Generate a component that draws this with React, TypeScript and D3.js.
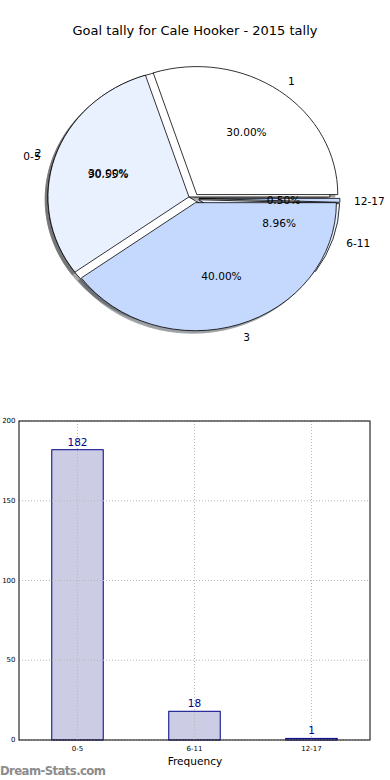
import React from 'react';
import * as d3 from 'd3';

const title = 'Goal tally for Cale Hooker - 2015 tally';
const pieLabelsA = ['1', '2', '3'];
const pieValuesA = [30, 30, 40];
const categories = ['0-5', '6-11', '12-17'];
const barValues = [182, 18, 1];
const pieColors = ['#ffffff', '#eaf1fe', '#c5d9fe'];
const yTicks = [0, 50, 100, 150, 200];

const FONT = 'DejaVu Sans, sans-serif';

const CX = 193.8, CY = 198.3, RX = 141, RY = 128, EXPLODE = 0.036;

function darken(c: string) {
  const r = d3.rgb(c);
  return d3.rgb(r.r * 0.3, r.g * 0.3, r.b * 0.3).toString();
}

function buildPie(values: number[], labels: string[]) {
  const total = d3.sum(values);
  const arcs = d3.pie<number>().sort(null).startAngle(Math.PI / 2).endAngle(Math.PI / 2 - 2 * Math.PI)(values);
  return arcs.map((a, i) => {
    const m = (a.startAngle + a.endAngle) / 2;
    const ux = Math.sin(m), uy = -Math.cos(m);
    return {
      arc: a,
      label: labels[i],
      pct: ((values[i] / total) * 100).toFixed(2) + '%',
      color: pieColors[i % pieColors.length],
      ox: CX + EXPLODE * RX * ux,
      oy: CY + EXPLODE * RY * uy,
      lx: CX + (EXPLODE + 1.1) * RX * ux,
      ly: CY + (EXPLODE + 1.1) * RY * uy,
      px: CX + (EXPLODE + 0.6) * RX * ux,
      py: CY + (EXPLODE + 0.6) * RY * uy,
      right: ux > 0,
    };
  });
}

export default function App() {
  const arcGen = d3.arc<d3.PieArcDatum<number>>().innerRadius(0).outerRadius(1);
  const pieB = buildPie(barValues, categories);
  const pieA = buildPie(pieValuesA, pieLabelsA);
  const pies = [pieB, pieA];
  const all = [...pieB, ...pieA];

  const x = d3.scaleLinear().domain([-0.5, 2.5]).range([19, 370]);
  const y = d3.scaleLinear().domain([0, 200]).range([740, 421]);
  const barW = 0.44;
  const navy = '#00008b';

  return (
    <svg width={390} height={780} style={{ position: 'absolute', left: 0, top: 0 }} fontFamily={FONT}>
      <rect x={0} y={0} width={390} height={780} fill="#ffffff" />
      <text x={195} y={34.5} textAnchor="middle" fontSize={13} fill="#000">{title}</text>

      {/* shadows */}
      {all.map((s, i) => (
        <path key={'sh' + i} d={arcGen(s.arc) || ''}
          transform={`translate(${s.ox - 0.02 * RX},${s.oy + 0.02 * RY}) scale(${RX},${RY})`}
          fill={darken(s.color)} stroke={darken(s.color)} opacity={0.5}
          vectorEffect="non-scaling-stroke" strokeWidth={0.8} />
      ))}
      {/* wedges */}
      {pies.map((p, j) => p.map((s, i) => (
        <path key={'w' + j + '-' + i} d={arcGen(s.arc) || ''}
          transform={`translate(${s.ox},${s.oy}) scale(${RX},${RY})`}
          fill={s.color} stroke="#000" strokeWidth={0.8} strokeLinejoin="miter"
          vectorEffect="non-scaling-stroke" />
      )))}
      {/* labels */}
      {all.map((s, i) => (
        <g key={'l' + i} fontSize={10.6} fill="#000">
          <text x={s.lx} y={s.ly} textAnchor={s.right ? 'start' : 'end'} dominantBaseline="central">{s.label}</text>
          <text x={s.px} y={s.py} textAnchor="middle" dominantBaseline="central">{s.pct}</text>
        </g>
      ))}

      {/* bar chart */}
      {barValues.map((v, i) => (
        <rect key={'b' + i} x={x(i - barW / 2)} y={y(v)} width={x(barW) - x(0)} height={y(0) - y(v)}
          fill="#cccce5" stroke={navy} strokeWidth={1} />
      ))}
      {/* grid */}
      {yTicks.map((t) => (
        <line key={'gy' + t} x1={x(-0.5)} x2={x(2.5)} y1={y(t)} y2={y(t)} stroke="#b8b8b8" strokeWidth={1} strokeDasharray="1,2" />
      ))}
      {categories.map((c, i) => (
        <line key={'gx' + i} x1={x(i)} x2={x(i)} y1={y(0)} y2={y(200)} stroke="#b8b8b8" strokeWidth={1} strokeDasharray="1,2" />
      ))}
      <rect x={x(-0.5)} y={y(200)} width={x(2.5) - x(-0.5)} height={y(0) - y(200)} fill="none" stroke="#000" strokeWidth={1} />
      {yTicks.map((t) => (
        <text key={'ty' + t} x={15.5} y={y(t)} textAnchor="end" dominantBaseline="central" fontSize={7} fill="#000">{t}</text>
      ))}
      {categories.map((c, i) => (
        <text key={'tx' + i} x={x(i)} y={750.5} textAnchor="middle" fontSize={7} fill="#000">{c}</text>
      ))}
      {barValues.map((v, i) => (
        <text key={'v' + i} x={x(i)} y={y(v) - 4} textAnchor="middle" fontSize={10.5} fill={navy}>{v}</text>
      ))}
      <text x={195} y={764.5} textAnchor="middle" fontSize={10.6} fill="#000">Frequency</text>
      <text x={0} y={775} fontSize={11.7} fill="#8c8c8c" fontWeight="bold" letterSpacing={-0.6}>Dream-Stats.com</text>
    </svg>
  );
}
